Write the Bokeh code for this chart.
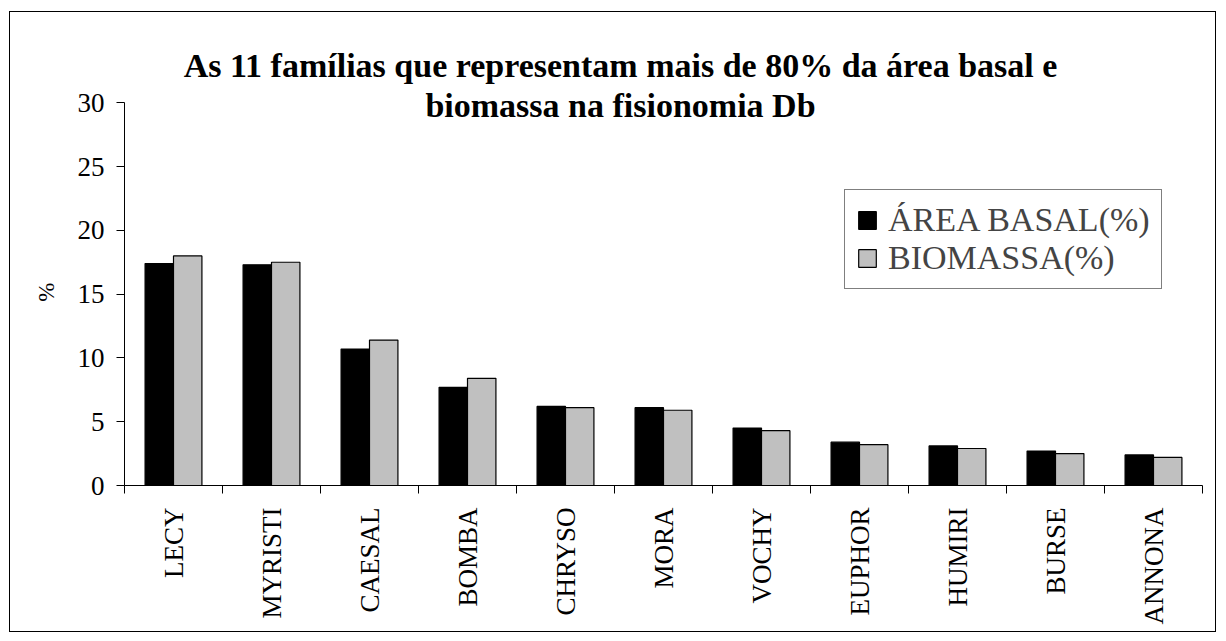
import math
from bokeh.plotting import figure
from bokeh.models import Range1d, FixedTicker, Label, Legend, LegendItem, ColumnDataSource
from bokeh.transform import dodge
from bokeh.embed import file_html
from bokeh.resources import INLINE

# ---- data ----
familias = ["LECY", "MYRISTI", "CAESAL", "BOMBA", "CHRYSO", "MORA",
            "VOCHY", "EUPHOR", "HUMIRI", "BURSE", "ANNONA"]
area_basal = [17.4, 17.3, 10.7, 7.7, 6.2, 6.1, 4.5, 3.4, 3.1, 2.7, 2.4]
biomassa = [18.0, 17.5, 11.4, 8.4, 6.1, 5.9, 4.3, 3.2, 2.9, 2.5, 2.2]
y_ticks = [0, 5, 10, 15, 20, 25, 30]
title_lines = ["As 11 famílias que representam mais de 80% da área basal e",
               "biomassa na fisionomia Db"]
series_names = ["ÁREA BASAL(%)", "BIOMASSA(%)"]
y_label = "%"

FONT = "Liberation Serif"

idx = list(range(len(familias)))
source = ColumnDataSource(dict(x=idx, area=area_basal, bio=biomassa, fam=familias))

p = figure(width=1207, height=621, output_backend="svg", toolbar_location=None,
           x_range=Range1d(-0.5, len(familias) - 0.5), y_range=Range1d(0, 37.08),
           min_border_left=114, min_border_right=15, min_border_top=0, min_border_bottom=148,
           margin=(11, 0, 0, 9), styles={"border": "1px solid black"})
p.outline_line_color = None
p.xgrid.visible = False
p.ygrid.visible = False
p.background_fill_color = "white"
p.border_fill_color = "white"

r1 = p.vbar(x=dodge("x", -0.145, range=p.x_range), top="area", width=0.29, source=source,
            fill_color="black", line_color="black", line_width=1.2)
r2 = p.vbar(x=dodge("x", 0.145, range=p.x_range), top="bio", width=0.29, source=source,
            fill_color="#C0C0C0", line_color="black", line_width=1.2)

# x axis
xa = p.xaxis[0]
xa.ticker = FixedTicker(ticks=idx, minor_ticks=[i - 0.5 for i in range(len(familias) + 1)])
xa.major_label_overrides = {i: f for i, f in zip(idx, familias)}
xa.major_tick_line_color = None
xa.major_tick_out = 8
xa.major_tick_in = 0
xa.minor_tick_line_color = "black"
xa.minor_tick_out = 8
xa.minor_tick_in = 0
xa.major_label_orientation = math.pi / 2
xa.major_label_standoff = 14
xa.major_label_text_font = FONT
xa.major_label_text_font_size = "27px"
xa.major_label_text_color = "black"
xa.axis_line_color = "black"

# y axis (frame reaches up to the title, axis drawn only over 0-30)
ya = p.yaxis[0]
ya.bounds = (0, 30)
ya.ticker = FixedTicker(ticks=y_ticks)
ya.minor_tick_line_color = None
ya.major_tick_out = 8
ya.major_tick_in = 0
ya.major_label_standoff = 12
ya.major_label_text_font = FONT
ya.major_label_text_font_size = "27px"
ya.major_label_text_color = "black"
ya.axis_line_color = "black"
# trailing no-break spaces shift the symbol down to the middle of the 0-30 span
ya.axis_label = y_label + "\u00a0" * 15
ya.axis_label_text_font = FONT
ya.axis_label_text_font_style = "normal"
ya.axis_label_text_font_size = "23px"
ya.axis_label_text_color = "black"
ya.axis_label_standoff = 16

# title (two lines)
for txt, yy in zip(title_lines, [420, 380]):
    p.add_layout(Label(x=496, y=yy, x_units="screen", y_units="screen", text=txt,
                       text_align="center", text_baseline="alphabetic",
                       text_font=FONT, text_font_style="bold", text_font_size="34px",
                       text_color="black"))

legend = Legend(items=[LegendItem(label=series_names[0], renderers=[r1]),
                       LegendItem(label=series_names[1], renderers=[r2])],
                location=(720, 196), orientation="vertical",
                glyph_width=22, glyph_height=22, label_standoff=10,
                label_text_font=FONT, label_text_font_size="34px",
                padding=11, spacing=0, margin=0,
                border_line_color="black", border_line_width=1,
                background_fill_color="white", background_fill_alpha=1.0)
p.add_layout(legend)

open("out.html", "w").write(file_html(p, INLINE))
